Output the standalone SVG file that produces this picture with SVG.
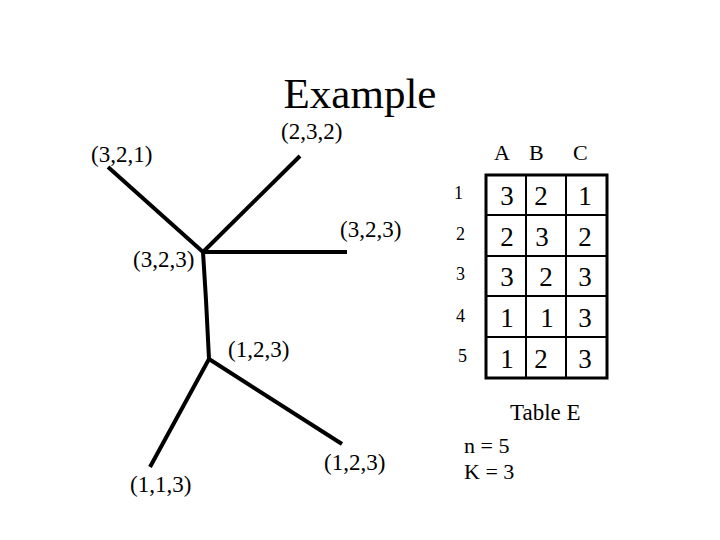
<svg xmlns="http://www.w3.org/2000/svg" width="720" height="540" viewBox="0 0 720 540">
<style>
.lbl{font-size:23px}
.hd{font-size:22px}
.rn{font-size:18px}
.cell{font-size:27px;text-anchor:middle}
.edge{stroke:#000;stroke-width:4;fill:none;stroke-linecap:butt}
.grid{stroke:#000;stroke-width:2;fill:none}
</style>
<rect width="720" height="540" fill="#fff"/>
<g font-family="'Liberation Serif', 'DejaVu Serif', serif" fill="#000">
<text x="360" y="108" font-size="43" text-anchor="middle">Example</text>
<g id="connectors">
<line class="edge" x1="203" y1="252" x2="108" y2="167"/>
<line class="edge" x1="203" y1="252" x2="300" y2="156" stroke-width="5"/>
<line class="edge" x1="203" y1="252" x2="347" y2="252"/>
<polyline class="edge" points="203,252 206,300 209,359"/>
<line class="edge" x1="209" y1="359" x2="150" y2="467"/>
<line class="edge" x1="209" y1="359" x2="342" y2="444"/>
</g>
<g id="n321"><text class="lbl" x="91" y="162">(3,2,1)</text></g>
<g id="n232"><text class="lbl" x="281" y="139">(2,3,2)</text></g>
<g id="n323r"><text class="lbl" x="340" y="237">(3,2,3)</text></g>
<g id="n323c"><text class="lbl" x="133" y="267">(3,2,3)</text></g>
<g id="n123c"><text class="lbl" x="228" y="357">(1,2,3)</text></g>
<g id="n113"><text class="lbl" x="130" y="492">(1,1,3)</text></g>
<g id="n123b"><text class="lbl" x="324" y="470">(1,2,3)</text></g>
<g id="table">
<text class="hd" x="494" y="160">A</text>
<text class="hd" x="529" y="160">B</text>
<text class="hd" x="573" y="160">C</text>
<text class="rn" x="454" y="199">1</text>
<text class="rn" x="456" y="240">2</text>
<text class="rn" x="456" y="280">3</text>
<text class="rn" x="456" y="322">4</text>
<text class="rn" x="458" y="362">5</text>
<rect x="486" y="175" width="121" height="203" fill="none" stroke="#000" stroke-width="3"/>
<line class="grid" x1="486" y1="215" x2="607" y2="215"/>
<line class="grid" x1="486" y1="256" x2="607" y2="256"/>
<line class="grid" x1="486" y1="296" x2="607" y2="296"/>
<line class="grid" x1="486" y1="337" x2="607" y2="337"/>
<line class="grid" x1="526" y1="175" x2="526" y2="378"/>
<line class="grid" x1="566" y1="175" x2="566" y2="378"/>
<text class="cell" x="507" y="205">3</text><text class="cell" x="541" y="205">2</text><text class="cell" x="585" y="205">1</text>
<text class="cell" x="507" y="246">2</text><text class="cell" x="542" y="246">3</text><text class="cell" x="585" y="246">2</text>
<text class="cell" x="507" y="286">3</text><text class="cell" x="546" y="286">2</text><text class="cell" x="585" y="286">3</text>
<text class="cell" x="507" y="327">1</text><text class="cell" x="547" y="327">1</text><text class="cell" x="585" y="327">3</text>
<text class="cell" x="507" y="368">1</text><text class="cell" x="541" y="368">2</text><text class="cell" x="585" y="368">3</text>
</g>
<text x="510" y="420" font-size="23">Table E</text>
<text x="464" y="453" font-size="22">n = 5</text>
<text x="464" y="479" font-size="22">K = 3</text>
</g>
</svg>
